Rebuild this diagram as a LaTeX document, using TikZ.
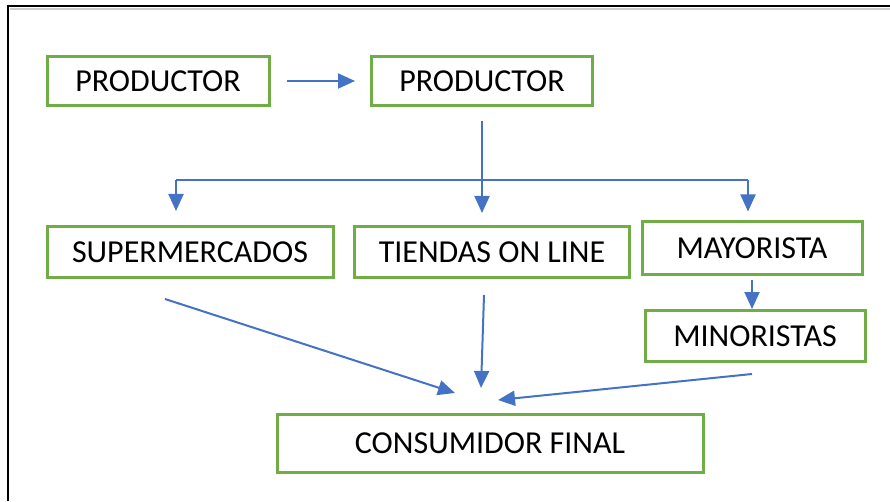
\documentclass[tikz,border=0pt]{standalone}
\usepackage{fontspec}
\setmainfont{Carlito}
\usetikzlibrary{arrows.meta}
\definecolor{boxgreen}{HTML}{70AD47}
\definecolor{arrowblue}{HTML}{4472C4}
\begin{document}
\begin{tikzpicture}[x=1pt,y=1pt,
box/.style ={rectangle, draw=boxgreen, line width=3pt, fill=white,
  inner sep=0pt, text centered,
  font=\fontsize{32}{38}\selectfont
},
arrow/.style ={draw=arrowblue, line width=2pt,
  -{Triangle[length=17pt,width=15pt]}
},
line/.style ={draw=arrowblue, line width=2pt}]
\useasboundingbox (0,0) rectangle (890,501);
% frame
\draw[gray!40, line width=2pt] (10,492) -- (890,492);
\draw[line width=2.5pt] (8,0) -- (8,495) -- (890,495);

\node (prod1) at (158,420) [box, minimum width=222, minimum height=49] {PRODUCTOR};
\node (prod2) at (482,420) [box, minimum width=221, minimum height=49] {PRODUCTOR};

\node (super) at (190,249) [box, minimum width=286, minimum height=51] {SUPERMERCADOS};
\node (tiendas) at (492,249) [box, minimum width=275, minimum height=51] {TIENDAS ON LINE};
\node (mayor) at (752,253) [box, minimum width=220, minimum height=52] {MAYORISTA};
\node (minor) at (755,165) [box, minimum width=220, minimum height=51] {MINORISTAS};

\node (consum) at (490,58) [box, minimum width=426, minimum height=58] {CONSUMIDOR FINAL};

\coordinate (busl) at (176,321);
\coordinate (busr) at (748,321);
\coordinate (inl) at (455,108);
\coordinate (inm) at (481,113);
\coordinate (inr) at (498,101);

\draw[arrow, shorten <=16pt, shorten >=15pt] (prod1.east) -- (prod2.west);
\draw[arrow, shorten <=14pt, shorten >=12pt] (prod2.south) -- (prod2.south |- tiendas.north);
\draw[line] (busl) -- (busr);
\draw[arrow, shorten >=14pt] (busl) -- (busl |- super.north);
\draw[arrow, shorten >=9pt] (busr) -- (busr |- mayor.north);
\draw[arrow, shorten <=4pt] (mayor.south) -- (mayor.south |- minor.north);

\draw[arrow] ([xshift=-25pt,yshift=-20pt]super.south) -- (inl);
\draw[arrow] ([xshift=-8pt,yshift=-16pt]tiendas.south) -- (inm);
\draw[arrow] ([xshift=-3pt,yshift=-11pt]minor.south) -- (inr);
\end{tikzpicture}
\end{document}
